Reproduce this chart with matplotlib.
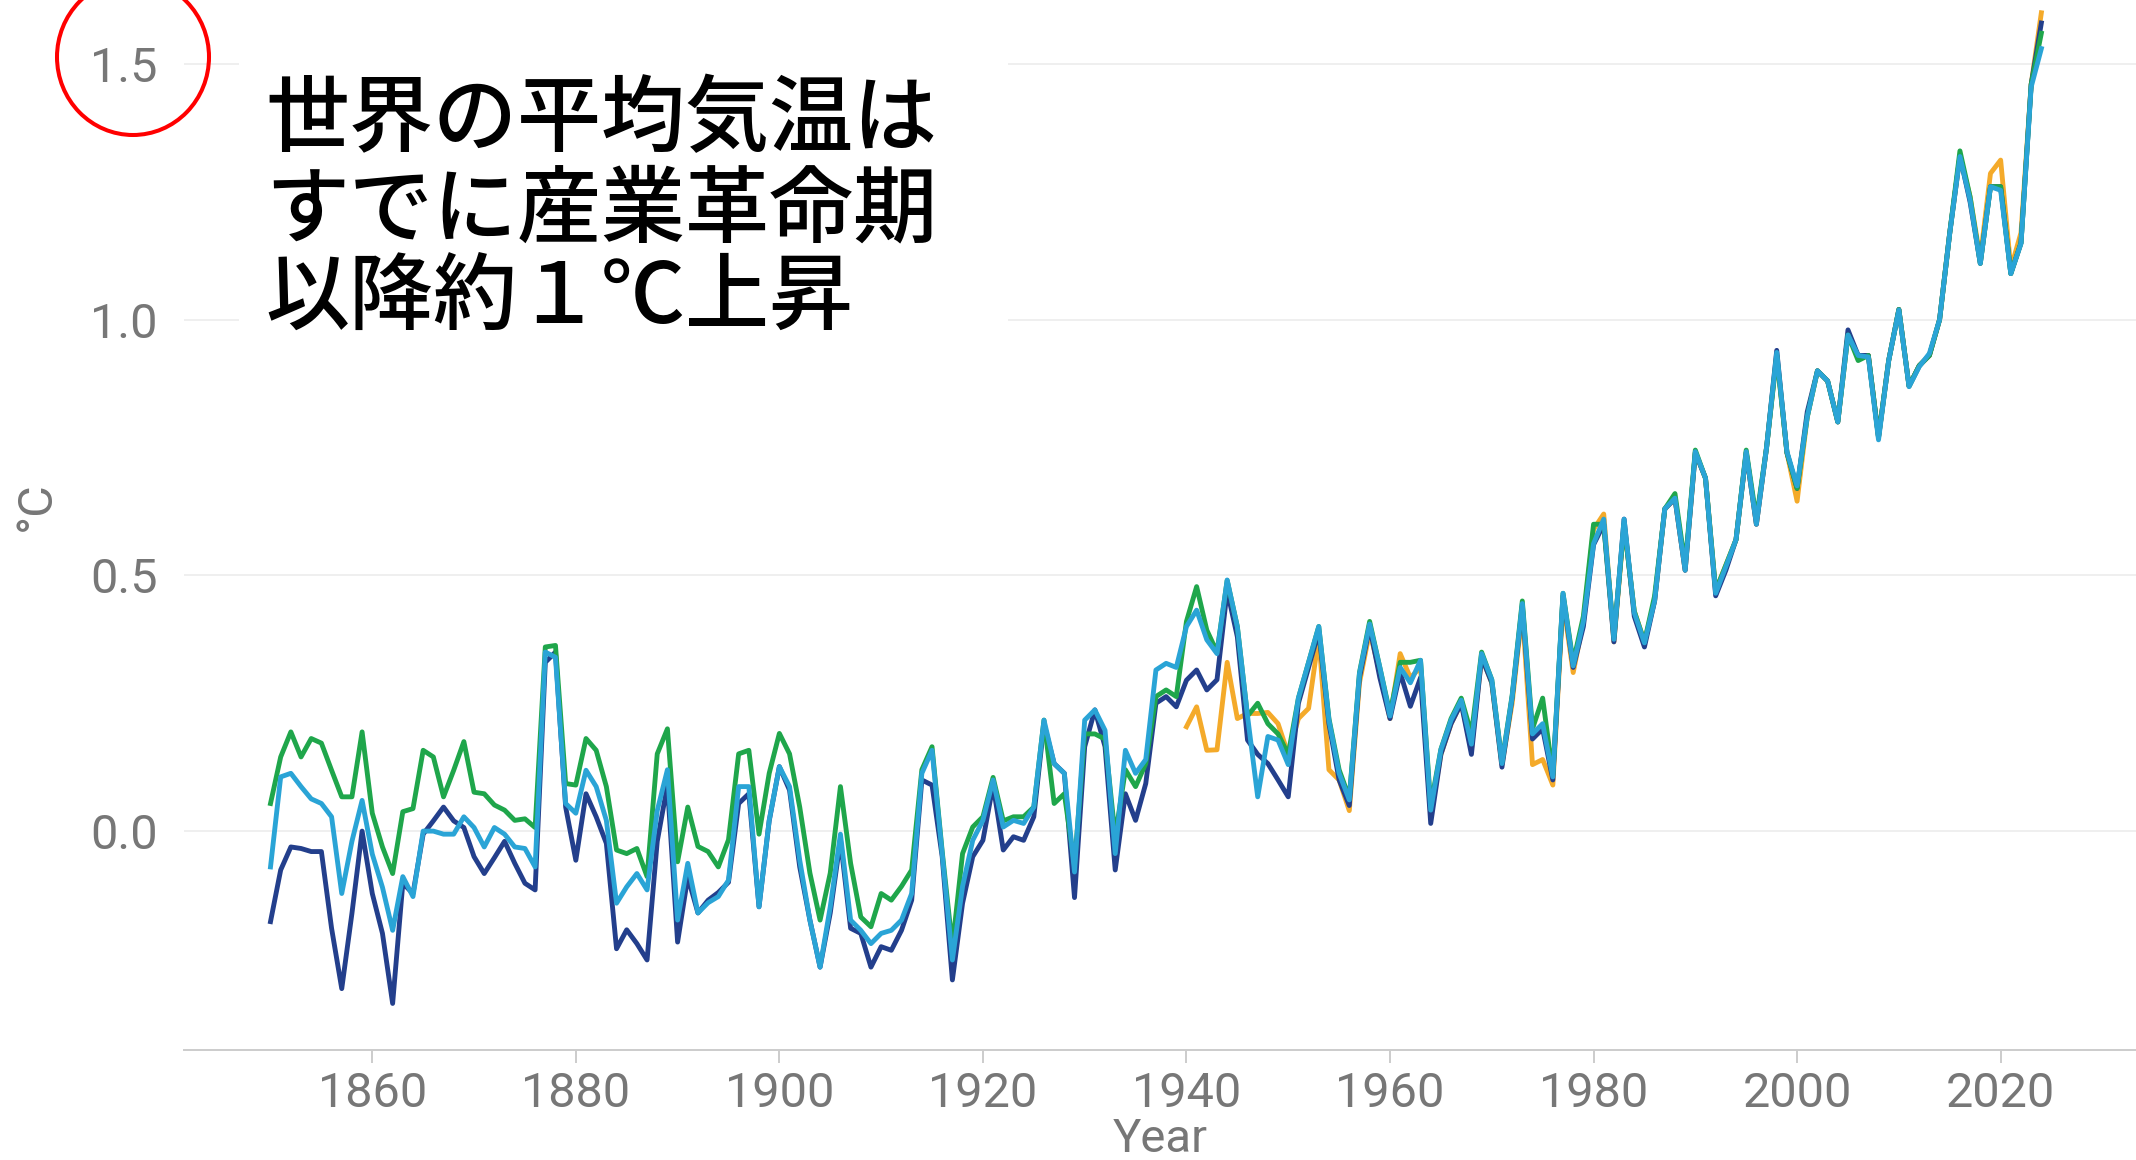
import numpy as np
import matplotlib
matplotlib.use("Agg")
import matplotlib.pyplot as plt
from matplotlib.patches import Rectangle, Ellipse

plt.rcParams['font.family'] = ['Roboto', 'DejaVu Sans']

# global temperature anomaly (°C), one value per year
years = np.arange(1850, 2025)
years_orange = np.arange(1940, 2025)

cyan = [
    -0.07, 0.106, 0.113, 0.087, 0.063, 0.054, 0.028, -0.122, -0.02, 0.06,
    -0.045, -0.11, -0.194, -0.089, -0.128, 0.0, 0.0, -0.006, -0.006, 0.028,
    0.007, -0.031, 0.007, -0.006, -0.031, -0.034, -0.07, 0.35, 0.34, 0.054,
    0.035, 0.119, 0.087, 0.021, -0.141, -0.109, -0.083, -0.115, 0.04, 0.12,
    -0.174, -0.063, -0.16, -0.14, -0.128, -0.096, 0.087, 0.087, -0.148, 0.021,
    0.126, 0.087, -0.057, -0.174, -0.266, -0.148, -0.006, -0.174, -0.194, -0.22,
    -0.2, -0.194, -0.174, -0.122, 0.113, 0.158, -0.044, -0.252, -0.108, -0.018,
    0.021, 0.1, 0.008, 0.021, 0.015, 0.047, 0.217, 0.132, 0.113, -0.08,
    0.217, 0.237, 0.197, -0.044, 0.158, 0.113, 0.14, 0.315, 0.328, 0.32,
    0.4, 0.432, 0.374, 0.347, 0.491, 0.399, 0.225, 0.067, 0.185, 0.178,
    0.13, 0.26, 0.33, 0.40, 0.217, 0.113, 0.061, 0.308, 0.405, 0.32,
    0.225, 0.32, 0.29, 0.334, 0.041, 0.159, 0.217, 0.256, 0.17, 0.347,
    0.296, 0.132, 0.263, 0.445, 0.19, 0.21, 0.106, 0.465, 0.323, 0.41,
    0.562, 0.61, 0.375, 0.61, 0.427, 0.368, 0.45, 0.63, 0.651, 0.51,
    0.742, 0.69, 0.465, 0.517, 0.57, 0.742, 0.6, 0.75, 0.936, 0.742,
    0.675, 0.81, 0.9, 0.88, 0.80, 0.97, 0.93, 0.927, 0.765, 0.92,
    1.019, 0.869, 0.908, 0.934, 1.0, 1.169, 1.319, 1.234, 1.11, 1.26,
    1.253, 1.09, 1.149, 1.455, 1.53,
]

green = [
    0.054, 0.145, 0.194, 0.145, 0.181, 0.172, 0.119, 0.067, 0.067, 0.194,
    0.035, -0.031, -0.083, 0.038, 0.044, 0.158, 0.145, 0.067, 0.119, 0.175,
    0.076, 0.073, 0.051, 0.041, 0.021, 0.024, 0.007, 0.36, 0.363, 0.093,
    0.09, 0.181, 0.158, 0.087, -0.037, -0.044, -0.034, -0.089, 0.151, 0.2,
    -0.06, 0.047, -0.03, -0.04, -0.07, -0.017, 0.151, 0.158, -0.006, 0.113,
    0.191, 0.151, 0.047, -0.082, -0.174, -0.082, 0.087, -0.063, -0.168, -0.187,
    -0.122, -0.135, -0.108, -0.076, 0.12, 0.165, -0.04, -0.226, -0.044, 0.008,
    0.028, 0.105, 0.02, 0.028, 0.028, 0.047, 0.217, 0.054, 0.073, -0.067,
    0.19, 0.19, 0.18, -0.011, 0.12, 0.087, 0.132, 0.263, 0.276, 0.263,
    0.41, 0.478, 0.393, 0.35, 0.49, 0.40, 0.225, 0.25, 0.21, 0.19,
    0.15, 0.26, 0.33, 0.40, 0.22, 0.12, 0.065, 0.31, 0.41, 0.32,
    0.23, 0.33, 0.33, 0.334, 0.05, 0.16, 0.22, 0.26, 0.19, 0.35,
    0.296, 0.135, 0.265, 0.45, 0.2, 0.26, 0.11, 0.465, 0.33, 0.42,
    0.60, 0.60, 0.38, 0.60, 0.43, 0.37, 0.46, 0.63, 0.66, 0.52,
    0.745, 0.69, 0.47, 0.52, 0.57, 0.745, 0.61, 0.75, 0.93, 0.74,
    0.67, 0.81, 0.9, 0.88, 0.8, 0.97, 0.92, 0.93, 0.77, 0.92,
    1.02, 0.87, 0.91, 0.93, 1.0, 1.17, 1.33, 1.24, 1.11, 1.26,
    1.26, 1.09, 1.15, 1.46, 1.56,
]

navy = [
    -0.177, -0.076, -0.031, -0.034, -0.040, -0.040, -0.19, -0.308, -0.161, 0.0,
    -0.122, -0.2, -0.337, -0.102, -0.122, -0.006, 0.02, 0.047, 0.02, 0.007,
    -0.05, -0.083, -0.052, -0.02, -0.063, -0.102, -0.115, 0.33, 0.35, 0.047,
    -0.057, 0.073, 0.028, -0.024, -0.23, -0.193, -0.22, -0.252, -0.02, 0.09,
    -0.217, -0.09, -0.16, -0.135, -0.12, -0.1, 0.054, 0.073, -0.148, 0.02,
    0.126, 0.08, -0.07, -0.174, -0.266, -0.16, -0.017, -0.19, -0.2, -0.266,
    -0.226, -0.233, -0.194, -0.135, 0.1, 0.09, -0.05, -0.291, -0.141, -0.05,
    -0.018, 0.09, -0.037, -0.011, -0.018, 0.028, 0.21, 0.132, 0.113, -0.13,
    0.165, 0.237, 0.165, -0.076, 0.073, 0.021, 0.093, 0.25, 0.263, 0.243,
    0.295, 0.315, 0.276, 0.296, 0.47, 0.38, 0.178, 0.15, 0.132, 0.1,
    0.067, 0.25, 0.32, 0.39, 0.21, 0.10, 0.05, 0.30, 0.40, 0.30,
    0.22, 0.31, 0.244, 0.30, 0.015, 0.15, 0.21, 0.25, 0.15, 0.34,
    0.29, 0.125, 0.26, 0.44, 0.18, 0.20, 0.10, 0.46, 0.32, 0.40,
    0.56, 0.60, 0.37, 0.61, 0.42, 0.36, 0.45, 0.63, 0.65, 0.51,
    0.74, 0.69, 0.46, 0.51, 0.57, 0.74, 0.60, 0.75, 0.94, 0.74,
    0.67, 0.82, 0.90, 0.88, 0.80, 0.98, 0.93, 0.93, 0.77, 0.92,
    1.02, 0.87, 0.91, 0.93, 1.00, 1.17, 1.32, 1.23, 1.11, 1.26,
    1.26, 1.09, 1.15, 1.46, 1.58,
]

orange = [
    0.204, 0.243, 0.158, 0.159, 0.33, 0.22, 0.23, 0.23, 0.232, 0.21,
    0.15, 0.22, 0.24, 0.38, 0.12, 0.10, 0.04, 0.29, 0.39, 0.31,
    0.22, 0.347, 0.30, 0.32, 0.03, 0.15, 0.21, 0.25, 0.16, 0.34,
    0.29, 0.13, 0.25, 0.43, 0.13, 0.14, 0.09, 0.45, 0.31, 0.41,
    0.59, 0.62, 0.37, 0.60, 0.43, 0.37, 0.45, 0.63, 0.65, 0.51,
    0.74, 0.69, 0.47, 0.52, 0.57, 0.74, 0.60, 0.75, 0.93, 0.74,
    0.645, 0.81, 0.90, 0.88, 0.80, 0.97, 0.93, 0.93, 0.77, 0.92,
    1.02, 0.87, 0.91, 0.93, 1.00, 1.17, 1.32, 1.24, 1.12, 1.286,
    1.312, 1.10, 1.17, 1.46, 1.60,
]

x_ticks = [1860, 1880, 1900, 1920, 1940, 1960, 1980, 2000, 2020]
y_ticks = [0.0, 0.5, 1.0, 1.5]
note_lines = ['世界の平均気温は', 'すでに産業革命期', '以降約１℃上昇']

W, H = 2136, 1160
fig = plt.figure(figsize=(W / 100, H / 100), dpi=100)
ax = fig.add_axes([184 / W, 110 / H, 1952 / W, 1050 / H])

lw = 3.5
ax.plot(years_orange, orange, color='#f4aa2a', lw=lw, zorder=2)
ax.plot(years, navy, color='#233f8c', lw=lw, zorder=3)
ax.plot(years, green, color='#1fa64b', lw=lw, zorder=4)
ax.plot(years, cyan, color='#2aa4d6', lw=lw, zorder=5)

ax.set_xlim(1841.5, 2033.3)
ax.set_ylim(-0.428, 1.625)
ax.set_xticks(x_ticks)
ax.set_yticks(y_ticks)
ax.set_yticklabels(['%.1f' % v for v in y_ticks])

for s in ['top', 'right', 'left']:
    ax.spines[s].set_visible(False)
ax.spines['bottom'].set_color('#cccccc')
ax.spines['bottom'].set_linewidth(1.4)

ax.set_axisbelow(True)
ax.grid(axis='y', color='#ebebeb', lw=1.1)
ax.tick_params(axis='y', length=0, pad=19, labelsize=35, labelcolor='#777777')
ax.tick_params(axis='x', length=9, width=1.4, color='#cccccc', pad=6,
               labelsize=35, labelcolor='#777777')

ax.set_xlabel('Year', fontsize=34, color='#777777', labelpad=0)
ax.set_ylabel('°C', fontsize=35, color='#777777', va='center')
ax.yaxis.set_label_coords(-0.0753, 0.518)

# white box hiding the old legend
fig.add_artist(Rectangle((239 / W, 1 - 400 / H), (1008 - 239) / W, 400 / H,
                         transform=fig.transFigure, facecolor='white',
                         edgecolor='none', zorder=6))

# red circle around the 1.5 label
fig.add_artist(Ellipse((133 / W, 1 - 57 / H), 152 / W, 156 / H,
                       transform=fig.transFigure, fill=False,
                       edgecolor='#ff0000', lw=2.9, zorder=7))

for txt, yc in zip(note_lines, [121, 211, 298]):
    fig.text(265 / W, 1 - yc / H, txt, fontsize=60.5, color='black',
             family=['Noto Sans CJK JP', 'DejaVu Sans'], weight='medium',
             ha='left', va='center', zorder=8)

fig.savefig('out.png', dpi=100)
